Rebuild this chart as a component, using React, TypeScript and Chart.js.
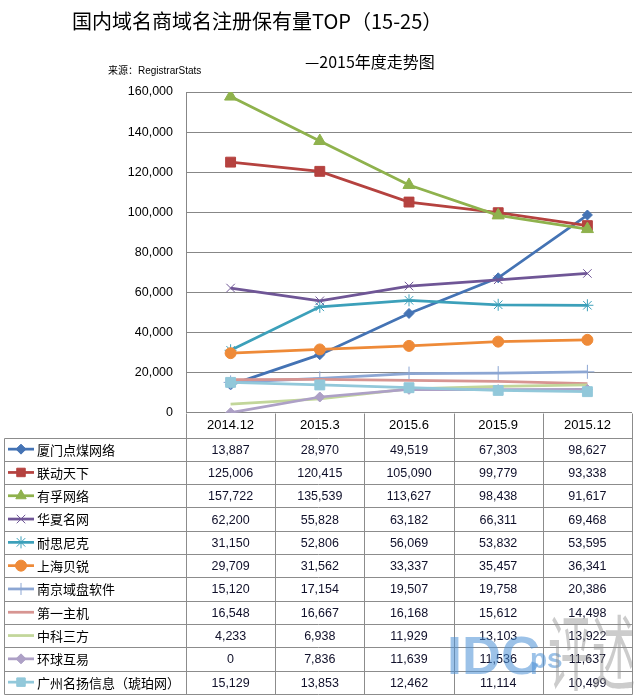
import React, { useEffect, useRef } from 'react';
import { Chart, registerables } from 'chart.js';
import { drawPoint } from 'chart.js/helpers';

Chart.register(...registerables);

// ---------- data ----------
const categories = ['2014.12', '2015.3', '2015.6', '2015.9', '2015.12'];
const yTicks = [0, 20000, 40000, 60000, 80000, 100000, 120000, 140000, 160000];

const seriesNames = [
  '厦门点煤网络',
  '联动天下',
  '有孚网络',
  '华夏名网',
  '耐思尼克',
  '上海贝锐',
  '南京域盘软件',
  '第一主机',
  '中科三方',
  '环球互易',
  '广州名扬信息（琥珀网）',
];

const xiamenDianmei = [13887, 28970, 49519, 67303, 98627];
const liandongTianxia = [125006, 120415, 105090, 99779, 93338];
const youfuNet = [157722, 135539, 113627, 98438, 91617];
const huaxiaMingwang = [62200, 55828, 63182, 66311, 69468];
const naisiNike = [31150, 52806, 56069, 53832, 53595];
const shanghaiBeirui = [29709, 31562, 33337, 35457, 36341];
const nanjingYupan = [15120, 17154, 19507, 19758, 20386];
const diyiZhuji = [16548, 16667, 16168, 15612, 14498];
const zhongkeSanfang = [4233, 6938, 11929, 13103, 13922];
const huanqiuHuyi = [0, 7836, 11639, 11536, 11637];
const guangzhouMingyang = [15129, 13853, 12462, 11114, 10499];

const seriesValues = [
  xiamenDianmei,
  liandongTianxia,
  youfuNet,
  huaxiaMingwang,
  naisiNike,
  shanghaiBeirui,
  nanjingYupan,
  diyiZhuji,
  zhongkeSanfang,
  huanqiuHuyi,
  guangzhouMingyang,
];

// ---------- styles ----------
const seriesColors = [
  '#4473B4',
  '#B5423F',
  '#8FB24D',
  '#6F5696',
  '#3CA0BA',
  '#EE8A38',
  '#8CA6D3',
  '#D79592',
  '#C2D69A',
  '#ADA0C6',
  '#92C8DA',
];
const seriesPointStyles: any[] = [
  'rectRot', 'rect', 'triangle', 'crossRot', 'star', 'circle',
  'cross', false, false, 'rectRot', 'rect',
];
const seriesPointRadius = [5, 7, 7, 6, 6, 5.5, 7, 0, 0, 5, 7];

const LATIN = "'Liberation Sans', Arial, sans-serif";
const CJK = "'Noto Sans CJK SC', 'Noto Sans', sans-serif";

const fmt = (v: number) => v.toLocaleString('en-US');

const HEADER_H = 24;
const ROW_H = 23.3;
const TABLE_LEFT = 4.5;

const tablePlugin = {
  id: 'dataTable',
  afterDraw(chart: any) {
    const ctx = chart.ctx as CanvasRenderingContext2D;
    const area = chart.chartArea;
    const xs = chart.scales.x;
    const n = categories.length;
    const colW = (area.right - area.left) / n;
    const headerTop = Math.round(area.bottom) + 0.5;
    const rowTop = headerTop + HEADER_H;
    const rows = seriesNames.length;
    const bottom = rowTop + rows * ROW_H;
    const right = Math.round(area.right) + 0.5;

    ctx.save();
    ctx.strokeStyle = '#8C8C8C';
    ctx.lineWidth = 1;
    ctx.beginPath();
    for (let i = 0; i <= rows; i++) {
      const y = Math.round(rowTop + i * ROW_H) + 0.5;
      ctx.moveTo(TABLE_LEFT, y);
      ctx.lineTo(right, y);
    }
    for (let k = 0; k <= n; k++) {
      const x = Math.round(area.left + k * colW) + 0.5;
      ctx.moveTo(x, headerTop);
      ctx.lineTo(x, Math.round(bottom) + 0.5);
    }
    ctx.moveTo(TABLE_LEFT, Math.round(rowTop) + 0.5);
    ctx.lineTo(TABLE_LEFT, Math.round(bottom) + 0.5);
    ctx.stroke();

    for (let i = 0; i < rows; i++) {
      const cy = rowTop + i * ROW_H + ROW_H / 2;
      const color = seriesColors[i];
      ctx.strokeStyle = color;
      ctx.lineWidth = 2.75;
      ctx.beginPath();
      ctx.moveTo(8, cy);
      ctx.lineTo(34, cy);
      ctx.stroke();
      const ps = seriesPointStyles[i];
      if (ps) {
        ctx.fillStyle = color;
        ctx.strokeStyle = color;
        ctx.lineWidth = 1;
        drawPoint(ctx, { pointStyle: ps, radius: Math.min(seriesPointRadius[i], 6), rotation: 0, borderWidth: 1 } as any, 21, cy);
      }
      ctx.fillStyle = '#000';
      ctx.font = `13px ${CJK}`;
      ctx.textAlign = 'left';
      ctx.textBaseline = 'middle';
      ctx.fillText(seriesNames[i], 37, cy + 0.5);
      ctx.font = `12.5px ${LATIN}`;
      ctx.textAlign = 'center';
      ctx.fillStyle = '#10102A';
      seriesValues[i].forEach((v, j) => {
        ctx.fillText(fmt(v), xs.getPixelForTick(j), cy + 1);
      });
    }

    // watermark
    ctx.globalAlpha = 0.55;
    ctx.fillStyle = '#4A8FD6';
    ctx.textAlign = 'left';
    ctx.textBaseline = 'alphabetic';
    ctx.font = `bold 54px ${LATIN}`;
    ctx.fillText('IDC', 447, 674);
    ctx.font = `bold 28px ${LATIN}`;
    ctx.fillText('ps', 530, 668);
    ctx.globalAlpha = 0.45;
    ctx.fillStyle = '#8E8E8E';
    ctx.translate(548, 684);
    ctx.scale(0.95, 1.8);
    ctx.font = `46px ${CJK}`;
    ctx.fillText('评述', 0, 0);
    ctx.restore();
  },
};

export default function App() {
  const ref = useRef<HTMLCanvasElement | null>(null);

  useEffect(() => {
    document.body.style.margin = '0';
    const canvas = ref.current!;
    const chart = new Chart(canvas, {
      type: 'line',
      data: {
        labels: categories,
        datasets: seriesNames.map((name, i) => ({
          label: name,
          data: seriesValues[i],
          borderColor: seriesColors[i],
          backgroundColor: seriesColors[i],
          pointBackgroundColor: seriesColors[i],
          pointBorderColor: seriesColors[i],
          pointBorderWidth: 1,
          pointStyle: seriesPointStyles[i],
          pointRadius: seriesPointRadius[i],
          borderWidth: 2.75,
          tension: 0,
          fill: false,
          order: -i,
        })),
      },
      options: {
        animation: false,
        responsive: false,
        devicePixelRatio: 1,
        layout: { padding: { left: 0, right: 6, top: 92, bottom: 7 } },
        plugins: {
          legend: { display: false },
          tooltip: { enabled: false },
          title: { display: false },
        },
        scales: {
          x: {
            type: 'category',
            offset: true,
            grid: { display: false, drawTicks: false },
            border: { display: false },
            ticks: {
              color: '#000',
              font: { family: LATIN, size: 13 },
              padding: 5,
              maxRotation: 0,
              autoSkip: false,
            },
            afterFit: (scale: any) => {
              scale.height = HEADER_H + seriesNames.length * ROW_H;
            },
          },
          y: {
            min: yTicks[0],
            max: yTicks[yTicks.length - 1],
            afterBuildTicks: (scale: any) => {
              scale.ticks = yTicks.map((v) => ({ value: v }));
            },
            grid: { color: '#878787', lineWidth: 1, drawTicks: false },
            border: { display: true, color: '#878787', width: 1 },
            ticks: {
              color: '#000',
              font: { family: LATIN, size: 12.5 },
              padding: 13,
              callback: (v: any) => fmt(Number(v)),
            },
            afterFit: (scale: any) => {
              scale.width = 186;
            },
          },
        },
      },
      plugins: [tablePlugin],
    });
    return () => chart.destroy();
  }, []);

  return (
    <div style={{ position: 'absolute', left: 0, top: 0, width: 640, height: 700, background: '#fff' }}>
      <canvas ref={ref} width={640} height={700} style={{ position: 'absolute', left: 0, top: 0 }} />
      <div
        style={{
          position: 'absolute', left: 72, top: 7, fontFamily: CJK, fontSize: 20,
          lineHeight: '28px', whiteSpace: 'nowrap', color: '#000',
        }}
      >
        国内域名商域名注册保有量TOP（15-25）
      </div>
      <div
        style={{
          position: 'absolute', left: 305, top: 49, fontFamily: CJK, fontSize: 16,
          lineHeight: '24px', whiteSpace: 'nowrap', color: '#000',
        }}
      >
        —2015年度走势图
      </div>
      <div
        style={{
          position: 'absolute', left: 108, top: 63, fontFamily: CJK, fontSize: 10,
          lineHeight: '14px', whiteSpace: 'nowrap', color: '#000',
        }}
      >
        来源：<span style={{ fontFamily: LATIN }}>RegistrarStats</span>
      </div>
    </div>
  );
}
